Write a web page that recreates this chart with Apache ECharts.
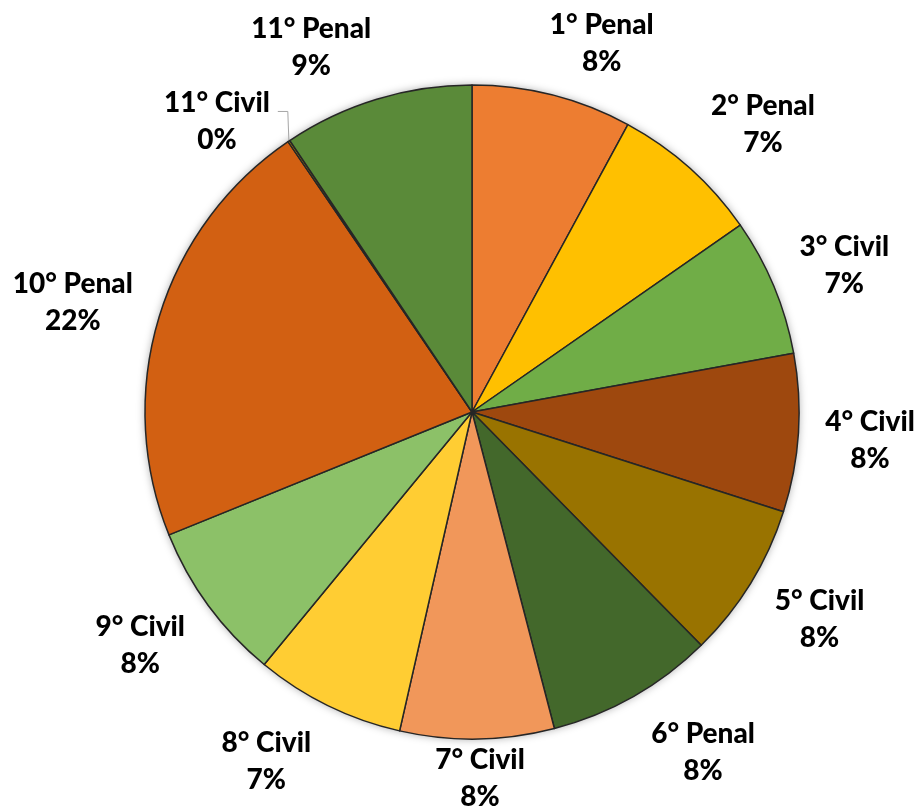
<!DOCTYPE html>
<html><head><meta charset="utf-8">
<script src="https://cdn.jsdelivr.net/npm/echarts@6/dist/echarts.min.js"></script>
<style>html,body{margin:0;padding:0;background:#fff}#c{width:919px;height:812px}</style>
</head><body><div id="c"></div>
<script>
const categories = ['1° Penal','2° Penal','3° Civil','4° Civil','5° Civil','6° Penal','7° Civil','8° Civil','9° Civil','10° Penal','11° Civil','11° Penal'];
const values = [79, 74, 68, 78, 77, 83, 76, 74, 79, 216, 1, 94];
const colors = ['#ED7D31','#FFC000','#70AD47','#9E480E','#997300','#43682B','#F1975A','#FFCD33','#8CC168','#D26012','#CC9A00','#5A8A39'];

const W = 919, H = 812;
const FONT_SIZE = 28, LINE_H = 37, FONT_W = 900, FONT_FAMILY = 'Lato';
const chart = echarts.init(document.getElementById('c'), null, {renderer: 'canvas'});

const measureCtx = document.createElement('canvas').getContext('2d');
function labelSize(i) {
  measureCtx.font = FONT_W + ' ' + FONT_SIZE + 'px ' + FONT_FAMILY;
  const total = values.reduce((a, b) => a + b, 0);
  const lines = [categories[i], Math.round(values[i] / total * 100) + '%'];
  const w = Math.max.apply(null, lines.map(l => measureCtx.measureText(l).width));
  return {w: w, h: LINE_H * 2};
}

function basePos(idx, w, h) {
  const lay = chart.getModel().getSeriesByIndex(1).getData().getItemLayout(idx);
  const m = (lay.startAngle + lay.endAngle) / 2;
  const ux = Math.cos(m), uy = Math.sin(m);
  const hw = w / 2, hh = h / 2;
  const gap = 18;
  const clamp = v => Math.max(-1, Math.min(1, v));
  const fx = clamp(ux * 3), fy = clamp(uy * 1.2);
  let x = lay.cx + (lay.r + gap) * ux + fx * (hw + 9);
  let y = lay.cy + (lay.r + gap) * uy + fy * hh;
  x = Math.min(Math.max(x, hw), W - hw);
  y = Math.min(Math.max(y, hh), H - hh) + 3;
  return {x: x, y: y, hw: hw, hh: hh, ux: ux, uy: uy, lay: lay};
}

function layoutLabel(p) {
  const i = p.dataIndex;
  const me = basePos(i, p.labelRect.width, p.labelRect.height);
  // avoid overlapping a neighbouring label belonging to a larger slice
  [i - 1, i + 1].forEach(j => {
    if (j < 0 || j >= values.length || values[j] <= values[i]) return;
    const s = labelSize(j);
    const o = basePos(j, s.w, s.h);
    const overlapX = Math.abs(me.x - o.x) < me.hw + o.hw;
    const overlapY = Math.abs(me.y - o.y) < me.hh + o.hh;
    if (overlapX && overlapY) {
      me.y = me.y >= o.y ? o.y + o.hh + me.hh : o.y - o.hh - me.hh;
    }
  });
  const lay = me.lay;
  const edge = [lay.cx + lay.r * me.ux, lay.cy + lay.r * me.uy];
  const side = me.ux < 0 ? 1 : -1;
  const p2 = [me.x + side * (me.hw + 8), me.y - me.hh / 2 + 8];
  const p1 = [p2[0] + side * 10, p2[1]];
  return {
    x: me.x, y: me.y, align: 'center', verticalAlign: 'middle',
    labelLinePoints: [edge, p1, p2]
  };
}

const data = categories.map((c, i) => {
  const item = {name: c, value: values[i], itemStyle: {color: colors[i]}};
  if (values[i] < 5) {
    item.labelLine = {show: true, lineStyle: {color: '#A6A6A6', width: 1}};
  }
  return item;
});

chart.setOption({
  animation: false,
  backgroundColor: '#ffffff',
  series: [
    {
      type: 'pie', silent: true, z: 1,
      center: [472, 412], radius: 327,
      label: {show: false}, labelLine: {show: false},
      itemStyle: {color: '#ffffff', shadowBlur: 8, shadowColor: 'rgba(0,0,0,0.35)'},
      data: [{value: 1, name: ''}]
    },
    {
      type: 'pie', z: 2,
      center: [472, 412], radius: 327,
      startAngle: 90, clockwise: true,
      avoidLabelOverlap: false,
      itemStyle: {borderColor: '#262626', borderWidth: 1.5},
      label: {
        show: true, position: 'outside',
        fontFamily: FONT_FAMILY, fontWeight: FONT_W, fontSize: FONT_SIZE, lineHeight: LINE_H,
        color: '#000000', align: 'center',
        formatter: p => p.name + '\n' + Math.round(p.percent) + '%'
      },
      labelLine: {show: false},
      labelLayout: layoutLabel,
      emphasis: {disabled: true},
      data: data
    }
  ]
});
</script>
</body></html>
